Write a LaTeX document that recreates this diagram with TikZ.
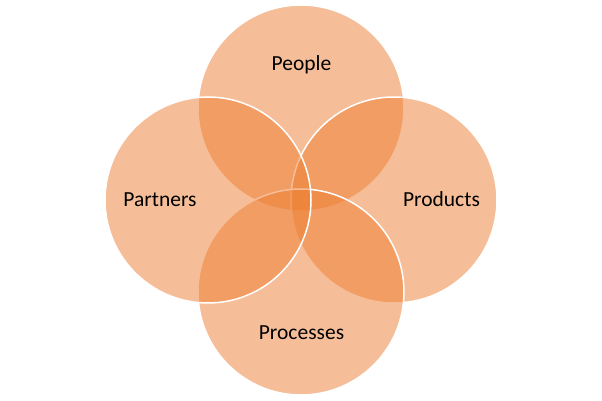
\documentclass[tikz,border=0pt]{standalone}
\usepackage{fontspec}
\usepackage{xcolor}
\setmainfont{Carlito}
\definecolor{vennorange}{RGB}{237,125,49}

\begin{document}
\begin{tikzpicture}[x=1pt, y=1pt,
  venncircle/.style={fill=vennorange, fill opacity=0.5, draw=white, line width=1.5pt},
  vennlabel/.style={anchor=base, text=black, font=\fontsize{21.5}{26}\selectfont}]
  % Fix the page size
  \useasboundingbox (0,0) rectangle (602,401);

  % Draw the four circles (later ones on top)
  \filldraw[venncircle] (301,293) circle (103);
  \filldraw[venncircle] (394,201) circle (103);
  \filldraw[venncircle] (301,109) circle (103);
  \filldraw[venncircle] (208,201) circle (103);

  % Labels
  \node[vennlabel] (people) at (301.5,330) {People};
  \node[vennlabel] (products) at (441.5,194) {Products};
  \node[vennlabel] (processes) at (301.5,61) {Processes};
  \node[vennlabel] (partners) at (160,194) {Partners};
\end{tikzpicture}
\end{document}
